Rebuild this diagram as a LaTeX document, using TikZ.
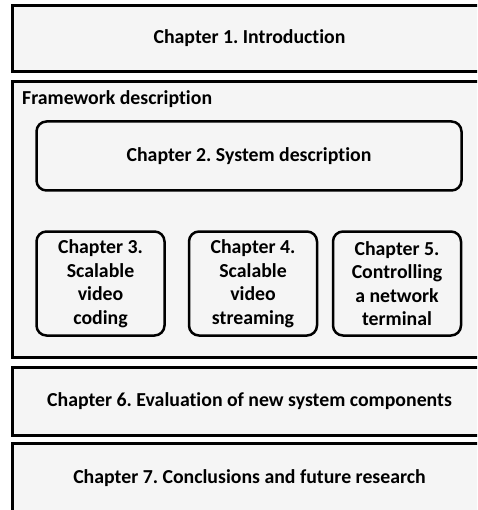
\documentclass[tikz,border=0pt]{standalone}
\usepackage{fontspec}
\setmainfont[Ligatures=NoCommon]{Carlito}
\usepackage{tikz}
\frenchspacing

\begin{document}
\begin{tikzpicture}[
  x=1pt, y=-1pt,
  chapbox/.style={draw, line width=3pt, fill=black!4, inner sep=0pt, font=\bfseries\fontsize{19.8}{23.5}\selectfont},
  partbox/.style={draw, line width=2.5pt, rounded corners=10pt, fill=black!4, inner sep=0pt, align=center, font=\bfseries\fontsize{19.8}{23.5}\selectfont}
]
\useasboundingbox (0,0) rectangle (477,510);
\clip (0,0) rectangle (477,510);
\fill[white] (0,0) rectangle (477,510);
% outer chapter frames, running past the right margin
\node[chapbox, minimum width=474pt, minimum height=66pt] (intro) at (249.5,38.5) {Chapter 1. Introduction};
\node[chapbox, minimum width=474pt, minimum height=276pt] (frame) at (249.5,219.5) {};
\node[anchor=base west, font=\bfseries\fontsize{19.8}{23.5}\selectfont, inner sep=0pt] (framelbl) at (22,105) {Framework description};
% chapters inside the framework part
\node[partbox, minimum width=425pt, minimum height=69pt] (sysdesc) at (249,156) {Chapter 2. System description};
\node[partbox, minimum width=128pt, minimum height=104pt] (svc) at (100.5,283.5) {Chapter 3.\\Scalable\\video\\coding};
\node[partbox, minimum width=128pt, minimum height=104pt] (svs) at (253,283.5) {Chapter 4.\\Scalable\\video\\streaming};
\node[partbox, minimum width=128pt, minimum height=104pt] (ctrl) at (397,283.5) {Chapter 5.\\Controlling\\a network\\terminal};
\node[chapbox, minimum width=474pt, minimum height=68pt] (eval) at (249.5,401.5) {Chapter 6. Evaluation of new system components};
\node[chapbox, minimum width=474pt, minimum height=69pt] (concl) at (249.5,478) {Chapter 7. Conclusions and future research};
\end{tikzpicture}
\end{document}
